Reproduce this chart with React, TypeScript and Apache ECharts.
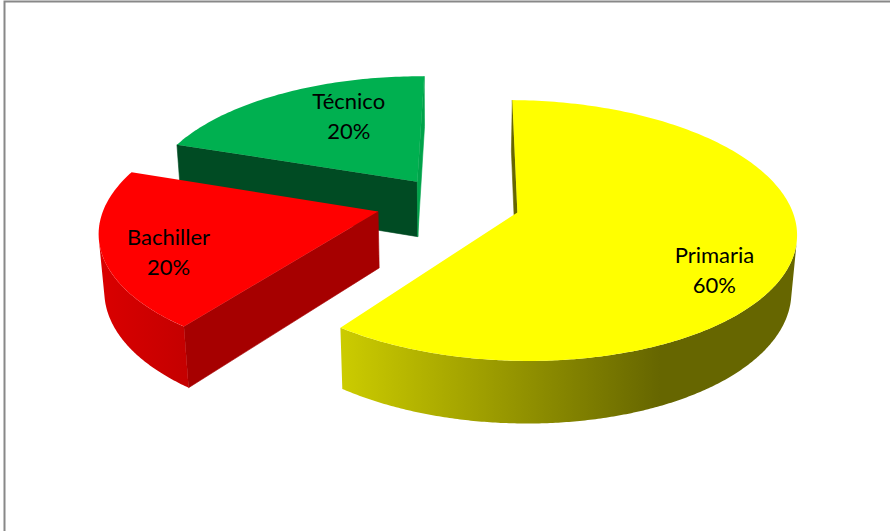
import React, { useEffect, useRef } from 'react';
import * as echarts from 'echarts';

// ---- data ----
const categories: string[] = ['Primaria', 'Bachiller', 'Técnico'];
const values: number[] = [60, 20, 20];

// ---- style ----
const topColors = ['#FFFF00', '#FF0000', '#00B050'];
const wallStops = [
  [[0, '#CCCC00'], [0.7, '#666600'], [1, '#666600']],
  [[0, '#DA0000'], [1, '#C40000']],
  [[0, '#008A40'], [1, '#006E33']],
];
const startFaceColors = ['#666600', '#A60000', '#004B23'];
const endFaceColors = ['#7A7A00', '#A60000', '#00A34A'];
const explode = [0.266, 0.266, 0.2];
const labelPlace = [
  { r: 0.78, da: 13.5 },
  { r: 0.78, da: -5.7 },
  { r: 0.66, da: 9.4 },
];
const START_ANGLE = 0.8;

// projection constants (perspective view of a tilted disk, radius = 1)
const CX = 448;
const CY = 201.6;
const F = 1803;
const FX = F * 0.983;
const D = 6.51;
const SP = 0.451;
const CP = 0.892;
const THICK = 0.23;
const CAM_V = -D * CP;
const RAD = Math.PI / 180;

function proj(u: number, v: number, bottom: boolean): number[] {
  const Y = bottom ? -THICK : 0;
  const d = D - Y * SP + v * CP;
  return [CX + (FX * u) / d, CY - (F * (Y * CP + v * SP)) / d];
}

const total = values.reduce((a, b) => a + b, 0);

function sliceGeom(i: number) {
  let start = START_ANGLE;
  for (let j = 0; j < i; j++) start += (values[j] / total) * 360;
  const end = start + (values[i] / total) * 360;
  const mid = ((start + end) / 2) * RAD;
  const ou = explode[i] * Math.sin(mid);
  const ov = explode[i] * Math.cos(mid);
  return { start, end, ou, ov };
}

export default function App() {
  const ref = useRef<HTMLDivElement>(null);
  useEffect(() => {
    if (!ref.current) return;
    const chart = echarts.init(ref.current, undefined, { renderer: 'svg' });
    const geoms = values.map((_, i) => sliceGeom(i));
    const order = geoms
      .map((g, i) => ({ i, ov: g.ov }))
      .sort((a, b) => b.ov - a.ov)
      .map((o) => o.i);
    const rank: number[] = [];
    order.forEach((idx, k) => (rank[idx] = k));

    const renderItem = (params: any, api: any) => {
      const i = params.dataIndex;
      const val = api.value(0) as number;
      const g = geoms[i];
      const start = g.start;
      const end = start + (val / total) * 360;
      const { ou, ov } = g;
      const pt = (deg: number, r: number) => [ou + r * Math.sin(deg * RAD), ov + r * Math.cos(deg * RAD)];
      const zb = rank[i] * 10;
      const children: any[] = [];

      // cut faces
      const faces = [
        { a: start, n: [-Math.cos(start * RAD), Math.sin(start * RAD)], color: startFaceColors[i] },
        { a: end, n: [Math.cos(end * RAD), -Math.sin(end * RAD)], color: endFaceColors[i] },
      ];
      faces.forEach((f) => {
        const dot = (0 - ou) * f.n[0] + (CAM_V - ov) * f.n[1];
        if (dot > 0) {
          const rim = pt(f.a, 1);
          children.push({
            type: 'polygon',
            z2: zb + 1,
            shape: {
              points: [proj(ou, ov, false), proj(rim[0], rim[1], false), proj(rim[0], rim[1], true), proj(ou, ov, true)],
            },
            style: { fill: f.color, stroke: f.color, lineWidth: 0.6 },
          });
        }
      });

      // outer wall (visible runs)
      const step = 0.5;
      const runs: number[][] = [];
      let cur: number[] = [];
      for (let a = start; a <= end + 1e-9; a += step) {
        const aa = Math.min(a, end);
        const p = pt(aa, 1);
        const s = Math.sin(aa * RAD);
        const c = Math.cos(aa * RAD);
        const vis = (0 - p[0]) * s + (CAM_V - p[1]) * c > 0;
        if (vis) cur.push(aa);
        else if (cur.length) {
          runs.push(cur);
          cur = [];
        }
      }
      if (cur.length) runs.push(cur);
      runs.forEach((run) => {
        if (run.length < 2) return;
        const topPts = run.map((a) => {
          const p = pt(a, 1);
          return proj(p[0], p[1], false);
        });
        const botPts = run
          .slice()
          .reverse()
          .map((a) => {
            const p = pt(a, 1);
            return proj(p[0], p[1], true);
          });
        const stops = wallStops[i].map((s: any) => ({ offset: s[0], color: s[1] }));
        children.push({
          type: 'polygon',
          z2: zb + 2,
          shape: { points: topPts.concat(botPts) },
          style: { fill: new echarts.graphic.LinearGradient(0, 0, 1, 0, stops) },
        });
      });

      // top face
      const topPoints: number[][] = [proj(ou, ov, false)];
      for (let a = start; a <= end + 1e-9; a += 1) {
        const aa = Math.min(a, end);
        const p = pt(aa, 1);
        topPoints.push(proj(p[0], p[1], false));
      }
      const pe = pt(end, 1);
      topPoints.push(proj(pe[0], pe[1], false));
      children.push({
        type: 'polygon',
        z2: zb + 3,
        shape: { points: topPoints },
        style: { fill: topColors[i] },
      });

      // label
      const la = (start + end) / 2 + labelPlace[i].da;
      const lp = pt(la, labelPlace[i].r);
      const sp = proj(lp[0], lp[1], false);
      children.push({
        type: 'text',
        z2: 100,
        x: sp[0],
        y: sp[1],
        style: {
          text: categories[i] + '\n' + Math.round((val / total) * 100) + '%',
          fill: '#000000',
          fontSize: 22,
          fontFamily: 'Lato, "Open Sans", sans-serif',
          align: 'center',
          verticalAlign: 'middle',
          lineHeight: 30,
        },
      });

      return { type: 'group', children };
    };

    chart.setOption({
      animation: false,
      backgroundColor: '#ffffff',
      graphic: [
        {
          type: 'rect',
          shape: { x: 4.5, y: 1.5, width: 1000, height: 1000 },
          style: { fill: 'none', stroke: '#888888', lineWidth: 2 },
          silent: true,
        },
      ],
      series: [
        {
          type: 'custom',
          coordinateSystem: 'none',
          renderItem,
          data: values.map((v, i) => ({ name: categories[i], value: [v] })),
        },
      ],
    });
    return () => chart.dispose();
  }, []);
  return (
    <div
      ref={ref}
      style={{ position: 'fixed', left: 0, top: 0, width: 890, height: 531 }}
    />
  );
}
